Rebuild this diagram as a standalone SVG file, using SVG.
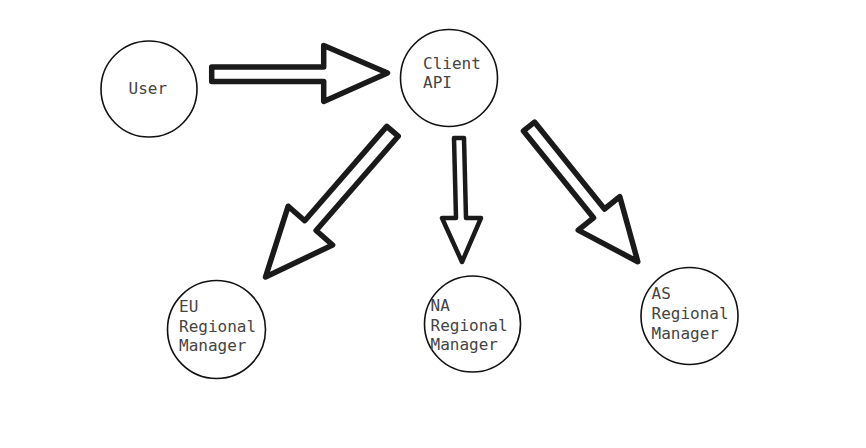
<svg xmlns="http://www.w3.org/2000/svg" width="866" height="448" viewBox="0 0 866 448">
<style>
.node circle{fill:#fff;stroke:#111;stroke-width:1.6}
.node text{font-family:"DejaVu Sans Mono","Liberation Mono",monospace;font-size:16px;fill:#444}
.arrow{fill:#fff;stroke:#1a1a1a;stroke-width:5.5;stroke-linejoin:round}
</style>
<rect width="866" height="448" fill="#fff"/>
<g id="connectors">
<polygon class="arrow" points="211.7,67 323.7,67 323.7,45.5 387.5,73 323.7,101.5 323.7,81.5 211.7,81.5"/>
<polygon class="arrow" points="386.8,126.4 398.2,136.2 316.1,230.5 332.6,245 265.5,277 288.2,206.2 304.7,220.7"/>
<polygon class="arrow" style="stroke-width:4.5" points="454,138 464,138 466,218 481,218 462,262 442,218 456,218"/>
<polygon class="arrow" points="534.5,122.1 604.5,209 619.8,196.7 637.8,261.7 578.2,230.1 593.5,217.8 523.5,130.9"/>
</g>
<g id="user" class="node">
<circle cx="149" cy="89" r="48"/>
<text x="128.5" y="94">User</text>
</g>
<g id="client-api" class="node">
<circle cx="449" cy="78" r="48.5"/>
<text x="423" y="69">Client</text>
<text x="423" y="88">API</text>
</g>
<g id="eu" class="node">
<circle cx="216.5" cy="329.5" r="49"/>
<text x="179" y="311.5">EU</text>
<text x="179" y="331.5">Regional</text>
<text x="179" y="351">Manager</text>
</g>
<g id="na" class="node">
<circle cx="472.5" cy="324" r="48"/>
<text x="430.5" y="311">NA</text>
<text x="430.5" y="330.5">Regional</text>
<text x="430.5" y="350">Manager</text>
</g>
<g id="as" class="node">
<circle cx="689.5" cy="316" r="48.5"/>
<text x="651.5" y="299">AS</text>
<text x="651.5" y="319">Regional</text>
<text x="651.5" y="338.5">Manager</text>
</g>
</svg>
